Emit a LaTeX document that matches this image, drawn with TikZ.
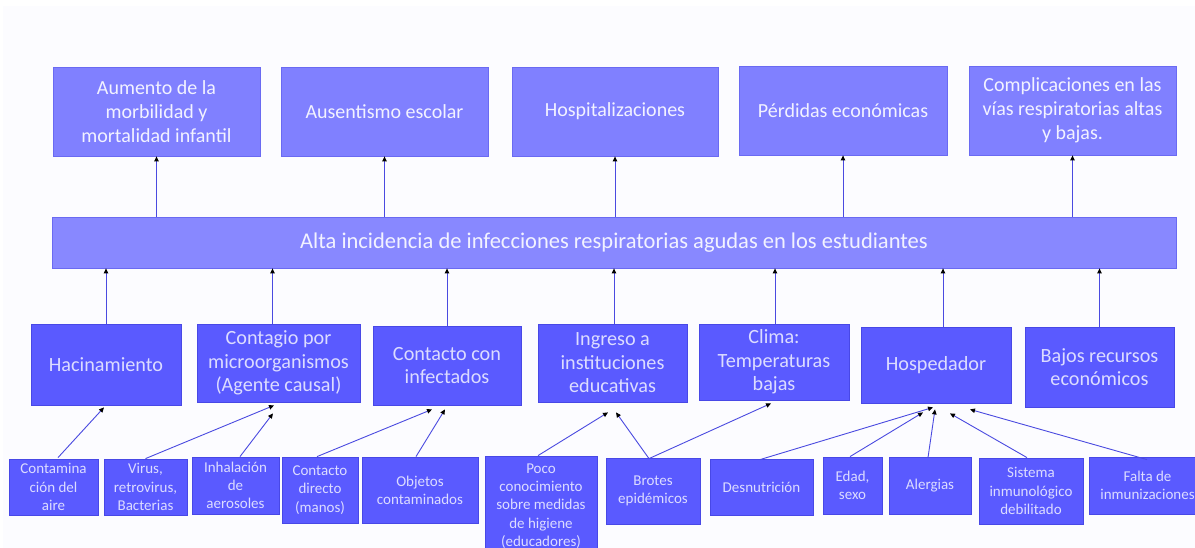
\documentclass[tikz,border=0pt]{standalone}
\usepackage{fontspec}
\setmainfont{Carlito}
\usetikzlibrary{arrows.meta,calc}
\definecolor{bgc}{HTML}{FCFCFF}
\definecolor{topfill}{HTML}{8080FF}
\definecolor{topdraw}{HTML}{6A6AF2}
\definecolor{barfill}{HTML}{8888FF}
\definecolor{lowfill}{HTML}{5A5AFF}
\definecolor{lowdraw}{HTML}{4848E6}
\definecolor{txtlight}{HTML}{F2F2FF}
\definecolor{txtlow}{HTML}{DCDCFF}
\definecolor{lineblue}{HTML}{4A4AE0}
\tikzset{
  boxbase/.style={rectangle, inner sep=0pt, align=center},
  topbox/.style={boxbase, fill=topfill, draw=topdraw, line width=0.8pt, text=txtlight, font=\fontsize{20}{24}\selectfont},
  barbox/.style={boxbase, fill=barfill, draw=topdraw, line width=0.8pt, text=txtlight, font=\fontsize{22.5}{26}\selectfont},
  midbox/.style={boxbase, fill=lowfill, draw=lowdraw, line width=0.8pt, text=txtlow, font=\fontsize{20.2}{23.5}\selectfont},
  lowbox/.style={boxbase, fill=lowfill, draw=lowdraw, line width=0.8pt, text=txtlow, font=\fontsize{15}{18.3}\selectfont},
  arr/.style={draw=lineblue, line width=0.9pt, -{Triangle[length=5pt,width=4.5pt,color=black]}},
}
\begin{document}
\begin{tikzpicture}[x=1pt,y=-1pt]
\useasboundingbox (0,0) rectangle (1195,548);
\clip (0,0) rectangle (1195,548);
\fill[white] (0,0) rectangle (1195,548);
\fill[bgc] (3,6) rectangle (1195,548);

% top row
\node[topbox, minimum width=207pt, minimum height=89pt] (t1) at (156.5,111.5) {Aumento de la\\morbilidad y\\mortalidad infantil};
\node[topbox, minimum width=207pt, minimum height=89pt] (t2) at (384.5,111.5) {Ausentismo escolar};
\node[topbox, minimum width=206pt, minimum height=89pt] (t3) at (615,111.5) {Hospitalizaciones};
\node[topbox, minimum width=208pt, minimum height=89pt] (t4) at (843,110.5) {Pérdidas económicas};
\node[topbox, minimum width=207pt, minimum height=89pt] (t5) at (1072.5,110.5) {Complicaciones en las\\vías respiratorias altas\\y bajas.};

% central bar
\node[barbox, minimum width=1124pt, minimum height=51pt] (bar) at (614,242.5) {Alta incidencia de infecciones respiratorias agudas en los estudiantes};

% middle row
\node[midbox, minimum width=150pt, minimum height=81pt] (m1) at (106,364.5) {Hacinamiento};
\node[midbox, minimum width=163pt, minimum height=78pt] (m2) at (278.5,363) {Contagio por\\microorganismos\\(Agente causal)};
\node[midbox, minimum width=148pt, minimum height=79pt] (m3) at (447,365.5) {Contacto con\\infectados};
\node[midbox, minimum width=149pt, minimum height=78pt] (m4) at (612.5,363) {Ingreso a\\instituciones\\educativas};
\node[midbox, minimum width=150pt, minimum height=76pt] (m5) at (774,362) {Clima:\\Temperaturas\\bajas};
\node[midbox, minimum width=150pt, minimum height=76pt] (m6) at (936,365) {Hospedador};
\node[midbox, minimum width=149pt, minimum height=80pt] (m7) at (1099.5,367) {Bajos recursos\\económicos};

% bottom row
\node[lowbox, minimum width=89pt, minimum height=56pt] (b1) at (53.5,487) {Contamina\\ción del\\aire};
\node[lowbox, minimum width=83pt, minimum height=56pt] (b2) at (145.5,487) {Virus,\\retrovirus,\\Bacterias};
\node[lowbox, minimum width=87pt, minimum height=57pt] (b3) at (235.5,485.5) {Inhalación\\de\\aerosoles};
\node[lowbox, minimum width=76pt, minimum height=66pt] (b4) at (320,490) {Contacto\\directo\\(manos)};
\node[lowbox, minimum width=116pt, minimum height=66pt] (b5) at (420,490) {Objetos\\contaminados};
\node[lowbox, minimum width=112pt, minimum height=100pt] (b6) at (541,506) {Poco\\conocimiento\\sobre medidas\\de higiene\\(educadores)};
\node[lowbox, minimum width=94pt, minimum height=66pt] (b7) at (653,491) {Brotes\\epidémicos};
\node[lowbox, minimum width=103pt, minimum height=56pt] (b8) at (761.5,487) {Desnutrición};
\node[lowbox, minimum width=59pt, minimum height=57pt] (b9) at (852.5,485.5) {Edad,\\sexo};
\node[lowbox, minimum width=82pt, minimum height=57pt] (b10) at (930,485.5) {Alergias};
\node[lowbox, minimum width=104pt, minimum height=66pt] (b11) at (1031,491) {Sistema\\inmunológico\\debilitado};
\node[lowbox, minimum width=117pt, minimum height=57pt] (b12) at (1147.5,485.5) {Falta de\\inmunizaciones};

% bar -> top
\foreach \t in {t1,t2,t3,t4,t5}{
  \draw[arr] (bar.north -| \t.south) -- (\t.south);
}

% middle -> bar
\draw[arr] (m1.north) -- (m1.north |- bar.south);
\draw[arr] ($(m2.north)+(-6,0)$) -- ($(m2.north |- bar.south)+(-6,0)$);
\draw[arr] (m3.north) -- (m3.north |- bar.south);
\draw[arr] ($(m4.north)+(1.5,0)$) -- ($(m4.north |- bar.south)+(1.5,0)$);
\draw[arr] ($(m5.north)+(1,0)$) -- ($(m5.north |- bar.south)+(1,0)$);
\draw[arr] ($(m6.north)+(7,0)$) -- ($(m6.north |- bar.south)+(7,0)$);
\draw[arr] (m7.north) -- (m7.north |- bar.south);

% bottom -> middle
\draw[arr] ($(b1.north)+(4.5,-1)$) -- ($(m1.south)+(-2,2)$);
\draw[arr] (b2.north) -- ($(m2.south)+(-4.5,3)$);
\draw[arr] ($(b3.north)+(4.5,0)$) -- ($(m2.south)+(-5.5,11)$);
\draw[arr] ($(b4.north)+(-3,0)$) -- ($(m3.south)+(-15,4)$);
\draw[arr] ($(b5.north)+(-4,0)$) -- ($(m3.south)+(-2,4)$);
\draw[arr] ($(b6.north)+(-3,0)$) -- ($(m4.south)+(-4.5,10)$);
\draw[arr] ($(b7.north)+(-4,1)$) -- ($(m4.south)+(3.5,10)$);
\draw[arr] ($(b7.north)+(-4,1)$) -- ($(m5.south)+(-3,3)$);
\draw[arr] ($(b8.north)+(-1.5,1)$) -- ($(m6.south)+(-3,4)$);
\draw[arr] ($(b9.north)+(-2.5,0)$) -- ($(m6.south)+(-13,9)$);
\draw[arr] ($(b10.north)+(-2,1)$) -- ($(m6.south)+(-1,6)$);
\draw[arr] ($(b11.north)+(-4,0)$) -- ($(m6.south)+(14,10)$);
\draw[arr] ($(b12.north)+(-0.5,3)$) -- ($(m6.south)+(34,6)$);
\end{tikzpicture}
\end{document}
